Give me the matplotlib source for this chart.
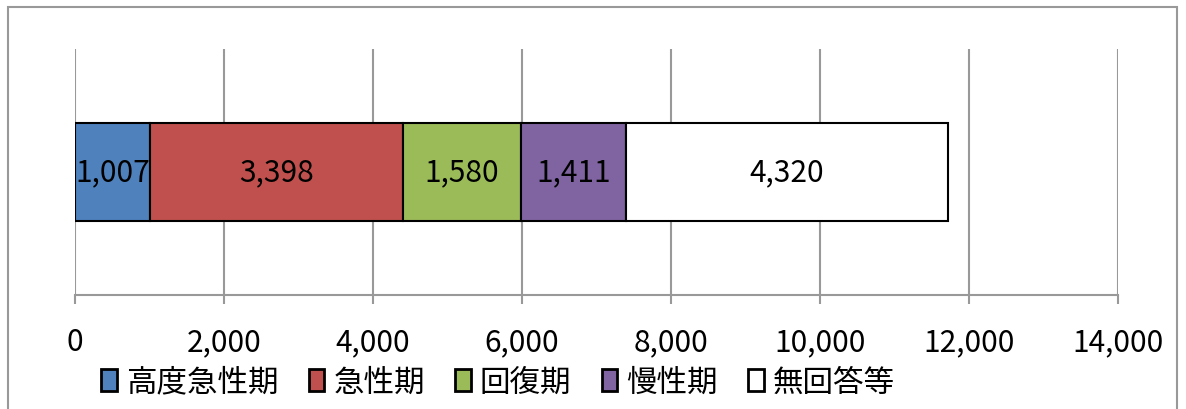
import numpy as np
import matplotlib
matplotlib.use("Agg")
import matplotlib.pyplot as plt
from matplotlib.patches import Rectangle

plt.rcParams['font.family'] = ['Noto Sans CJK JP', 'DejaVu Sans']

categories = ['高度急性期', '急性期', '回復期', '慢性期', '無回答等']
values = [1007, 3398, 1580, 1411, 4320]
colors = ['#4F81BD', '#C0504D', '#9BBB59', '#8064A2', '#FFFFFF']
xticks = [0, 2000, 4000, 6000, 8000, 10000, 12000, 14000]

fig = plt.figure(figsize=(11.86, 4.1), dpi=100)
ax = fig.add_axes([75 / 1186, 1 - 296 / 410, (1118 - 75) / 1186, (296 - 50) / 410])

left = 0
for name, v, c in zip(categories, values, colors):
    ax.barh(0, v, left=left, height=0.4, color=c, edgecolor='black', linewidth=1.5, label=name, zorder=3)
    ax.text(left + v / 2, 0, f'{v:,}', ha='center', va='center', fontsize=21.5, zorder=4)
    left += v

ax.set_xlim(0, 14000)
ax.set_ylim(-0.5, 0.5)
ax.set_xticks(xticks)
ax.set_xticklabels([f'{t:,}' for t in xticks], fontsize=21.5)
ax.set_yticks([])
ax.grid(axis='x', color='#999999', linewidth=1.5, zorder=0)
for s in ['top', 'right', 'left']:
    ax.spines[s].set_visible(False)
ax.spines['bottom'].set_color('#999999')
ax.spines['bottom'].set_linewidth(1.5)
ax.tick_params(axis='x', direction='out', length=6.5, width=1.5, color='#999999', pad=16)

leg = fig.legend(loc='center', bbox_to_anchor=(0.42, 1 - 383 / 410), ncol=5, frameon=False,
                 fontsize=22, handlelength=0.5, handleheight=0.75, handletextpad=0.3, columnspacing=1.0,
                 borderpad=0)
for h in leg.legend_handles:
    h.set_linewidth(2)

fig.patches.append(Rectangle((8 / 1186, -0.1), (1177 - 8) / 1186, 1.1 - 8 / 410, transform=fig.transFigure,
                             fill=False, edgecolor='#999999', linewidth=1.5))

fig.savefig('out.png', dpi=100)
